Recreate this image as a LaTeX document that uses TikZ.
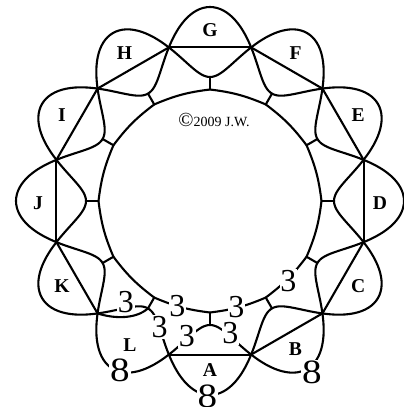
\documentclass[tikz,border=0pt]{standalone}
\usepackage{fontspec}
\setmainfont{Liberation Serif}
\usepackage{graphicx}
\begin{document}
\begin{tikzpicture}[x=1pt,y=1pt,line width=2.1pt,line cap=round,line join=round,
  letter/.style={font=\fontsize{19.6}{20}\selectfont\bfseries,inner sep=0pt},
  three/.style={fill=white,inner sep=0.8pt,font=\fontsize{32}{32}\selectfont},
  eight/.style={fill=white,inner sep=0.8pt,font=\fontsize{34}{34}\selectfont},
  ringarc/.style={bend right=8}]
\useasboundingbox (-210,-206) rectangle (194,201);
\foreach \i in {0,...,11}{
  \coordinate (V\i) at ({15+30*\i}:159);
  \coordinate (R\i) at ({30*\i}:111.5);
  \coordinate (I\i) at ({30*\i}:124);
}
% two interlaced strands forming the lenses
\draw plot[domain=0:359,samples=360,smooth cycle] (\x:{159+35*sin(6*(\x-15))});
\draw plot[domain=0:359,samples=360,smooth cycle] (\x:{159-35*sin(6*(\x-15))});
% chords (none for L)
\foreach \a/\b in {11/0,0/1,1/2,2/3,3/4,4/5,5/6,6/7,8/9,9/10,10/11}
  \draw (V\a) -- (V\b);
% extra curve in L
\draw (V7) .. controls (-95,-118) and (-74,-118) .. (I8);
% inner ring
\draw (R0) \foreach \i in {1,...,11}{ to[ringarc] (R\i)} to[ringarc] (R0);
% rungs
\foreach \i in {0,...,11} \draw (I\i) -- (R\i);
% letters
\node[letter] (D) at (170,-2.5) {D};
\node[letter] (E) at (30:171) {E};
\node[letter] (F) at (60:171) {F};
\node[letter] (G) at (90:171) {G};
\node[letter] (H) at (120:171) {H};
\node[letter] (I) at (150:171) {I};
\node[letter] (J) at (-172,-2) {J};
\node[letter] (K) at (210:171) {K};
\node[letter] (L) at (-80,-144.5) {L};
\node[letter] (A) at (0,-169) {A};
\node[letter] (B) at (300:171) {B};
\node[letter] (C) at (330:171) {C};
% weights
\node[three] (t1) at (-84,-101) {3};
\node[three] (t2) at (-50.3,-126) {3};
\node[three] (t3) at (-23,-135.5) {3};
\node[three] (t4) at (20.5,-132.5) {3};
\node[three] (t5) at (-32.5,-105) {3};
\node[three] (t6) at (26.5,-106.5) {3};
\node[three] (t7) at (78.3,-80) {3};
\node[eight] (e1) at (-90,-169.7) {\scalebox{1.15}[1]{8}};
\node[eight] (e2) at (-2.5,-195.2) {\scalebox{1.15}[1]{8}};
\node[eight] (e3) at (102,-171.3) {\scalebox{1.15}[1]{8}};
% copyright
\node[font=\fontsize{14}{14}\selectfont,anchor=base,inner sep=0pt] (cr) at (4,74.3) {{\fontsize{20}{20}\selectfont ©}2009 J.W.};
\end{tikzpicture}
\end{document}
